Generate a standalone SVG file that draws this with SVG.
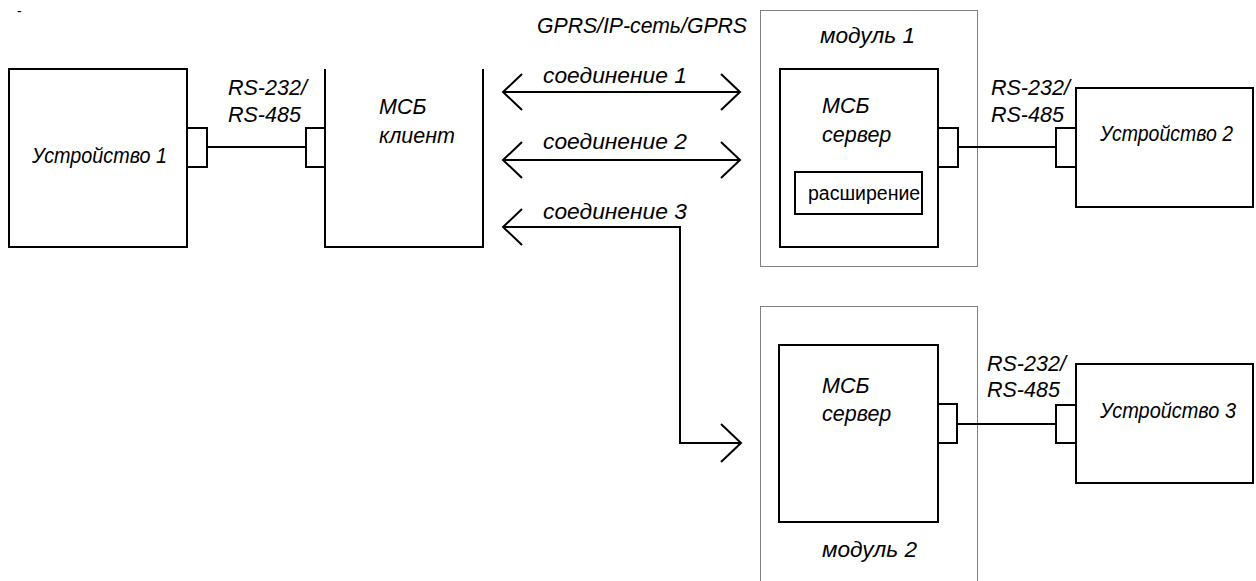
<svg xmlns="http://www.w3.org/2000/svg" width="1256" height="581" viewBox="0 0 1256 581">
<style>
.box{fill:none;stroke:#000;stroke-width:2}
.mod{fill:none;stroke:#808080;stroke-width:1}
.ln{fill:none;stroke:#000;stroke-width:2}
.t{font-family:"Liberation Sans",Arial,sans-serif;font-size:21.5px;font-style:italic;fill:#000}
.r{font-family:"Liberation Sans",Arial,sans-serif;font-size:19.5px;fill:#000}
</style>
<rect width="1256" height="581" fill="#fff"/>
<text x="17" y="16" class="r" style="font-size:14px">-</text>
<g id="dev1">
<rect class="box" x="9" y="69" width="178" height="178"/>
<rect class="box" x="187" y="128" width="20" height="39"/>
<text class="t" x="32" y="163" textLength="135" lengthAdjust="spacingAndGlyphs">Устройство 1</text>
</g>
<g id="client">
<path class="box" d="M325,69 V247 H483 V69"/>
<rect class="box" x="306" y="128" width="19" height="39"/>
<text class="t" x="379" y="114">МСБ</text>
<text class="t" x="379" y="143">клиент</text>
</g>
<g id="module1">
<rect class="mod" x="760.5" y="10.5" width="217" height="256"/>
<text class="t" x="820" y="43" textLength="95" lengthAdjust="spacingAndGlyphs">модуль 1</text>
</g>
<g id="server1">
<rect class="box" x="780" y="69" width="158" height="178"/>
<rect class="box" x="938" y="128" width="20" height="39"/>
<text class="t" x="822" y="113">МСБ</text>
<text class="t" x="822" y="142">сервер</text>
</g>
<g id="ext">
<rect class="box" x="795" y="172" width="127" height="42"/>
<text class="r" x="808" y="200">расширение</text>
</g>
<g id="dev2">
<rect class="box" x="1076" y="88" width="177" height="119"/>
<rect class="box" x="1056" y="128" width="20" height="39"/>
<text class="t" x="1100" y="141" textLength="133" lengthAdjust="spacingAndGlyphs">Устройство 2</text>
</g>
<g id="module2">
<rect class="mod" x="760.5" y="306.5" width="217" height="290"/>
<text class="t" x="822" y="557" textLength="95" lengthAdjust="spacingAndGlyphs">модуль 2</text>
</g>
<g id="server2">
<rect class="box" x="779" y="345" width="159" height="177"/>
<rect class="box" x="938" y="404" width="19" height="39"/>
<text class="t" x="822" y="393">МСБ</text>
<text class="t" x="822" y="421">сервер</text>
</g>
<g id="dev3">
<rect class="box" x="1076" y="364" width="177" height="119"/>
<rect class="box" x="1056" y="405" width="20" height="38"/>
<text class="t" x="1100" y="418" textLength="136" lengthAdjust="spacingAndGlyphs">Устройство 3</text>
</g>
<g id="connectors">
<line class="ln" x1="207" y1="147" x2="306" y2="147"/>
<line class="ln" x1="958" y1="147" x2="1056" y2="147"/>
<line class="ln" x1="957" y1="424" x2="1056" y2="424"/>
<path class="ln" d="M503,92 H740 M522,74 L503,92 L522,110 M721,74 L740,92 L721,110"/>
<path class="ln" d="M503,160 H740 M522,142 L503,160 L522,178 M721,142 L740,160 L721,178"/>
<path class="ln" d="M522,209 L503,227 L522,245 M503,227 H680 V443 H741 M721,424 L741,443 L721,462"/>
</g>
<g id="labels">
<text class="t" x="537" y="33" textLength="210" lengthAdjust="spacingAndGlyphs">GPRS/IP-сеть/GPRS</text>
<text class="t" x="543" y="83" textLength="144" lengthAdjust="spacingAndGlyphs">соединение 1</text>
<text class="t" x="543" y="149" textLength="144" lengthAdjust="spacingAndGlyphs">соединение 2</text>
<text class="t" x="543" y="219" textLength="144" lengthAdjust="spacingAndGlyphs">соединение 3</text>
<text class="t" x="228" y="95">RS-232/</text>
<text class="t" x="228" y="122">RS-485</text>
<text class="t" x="991" y="95">RS-232/</text>
<text class="t" x="991" y="122">RS-485</text>
<text class="t" x="987" y="371">RS-232/</text>
<text class="t" x="987" y="397">RS-485</text>
</g>
</svg>
